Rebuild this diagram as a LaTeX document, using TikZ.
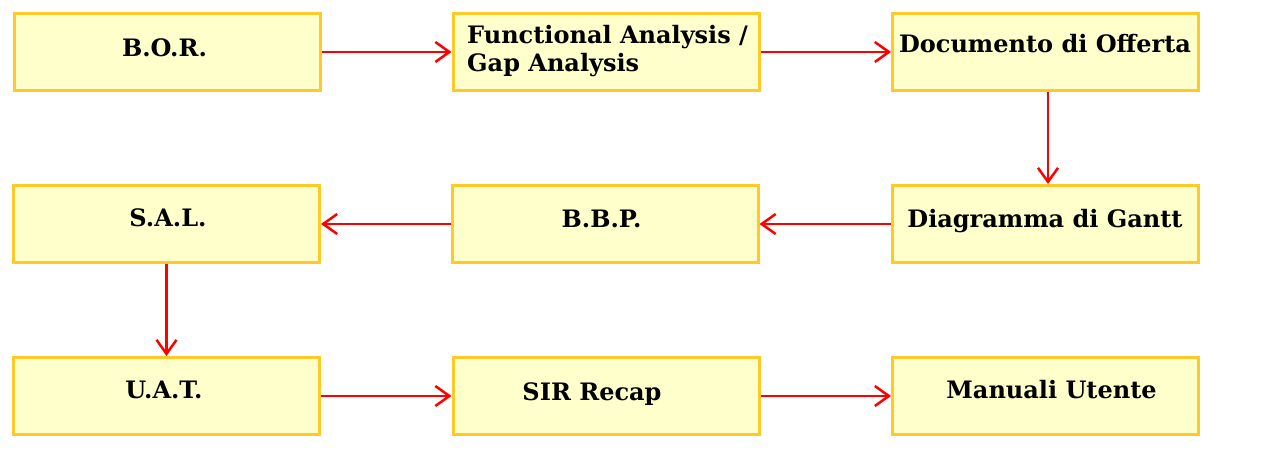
\documentclass[tikz,border=0pt]{standalone}
\usepackage{fontspec}
\setmainfont{DejaVu Serif}
\usetikzlibrary{arrows.meta}

\begin{document}
\begin{tikzpicture}[x=1pt, y=1pt,
    fase/.style={draw=oro, fill=crema, line width=3pt, minimum width=306pt, minimum height=77pt, inner sep=0pt},
    etichetta/.style={font=\fontsize{24}{28}\selectfont\bfseries, anchor=base, inner sep=0pt},
    freccia/.style={rosso, line width=2.5pt, -{Straight Barb[length=14pt, width=20pt]}}]

% Define colors
\definecolor{oro}{RGB}{255,202,40}
\definecolor{crema}{RGB}{255,255,204}
\definecolor{rosso}{RGB}{255,0,0}

\useasboundingbox (0,0) rectangle (1272,-462);

% First row
\node[fase] (bor) at (167,-52) {};
\node[fase] (fa) at (606,-52) {};
\node[fase] (doc) at (1045.5,-52) {};
\node[etichetta] (borT) at (164.5,-57) {B.O.R.};
\node[etichetta, anchor=base west, align=left] (faT) at (467,-72) {Functional Analysis /\\Gap Analysis};
\node[etichetta] (docT) at (1045,-53) {Documento di Offerta};

% Second row
\node[fase] (sal) at (166.5,-224) {};
\node[fase] (bbp) at (605,-224) {};
\node[fase] (gantt) at (1045.5,-224) {};
\node[etichetta] (salT) at (168,-227) {S.A.L.};
\node[etichetta] (bbpT) at (601.5,-228) {B.B.P.};
\node[etichetta] (ganttT) at (1045,-228) {Diagramma di Gantt};

% Third row
\node[fase] (uat) at (166.5,-396) {};
\node[fase] (sir) at (606,-396) {};
\node[fase] (man) at (1045.5,-396) {};
\node[etichetta] (uatT) at (164,-399) {U.A.T.};
\node[etichetta] (sirT) at (592,-400) {SIR Recap};
\node[etichetta] (manT) at (1051.5,-399) {Manuali Utente};

% Connectors
\draw[freccia] (bor) -- (fa);
\draw[freccia] (fa) -- (doc);
\draw[freccia] ([xshift=2.5pt]doc.south) -- ([xshift=2.5pt]gantt.north);
\draw[freccia] (gantt) -- (bbp);
\draw[freccia] (bbp) -- (sal);
\draw[freccia] (sal) -- (uat);
\draw[freccia] (uat) -- (sir);
\draw[freccia] (sir) -- (man);

\end{tikzpicture}
\end{document}
